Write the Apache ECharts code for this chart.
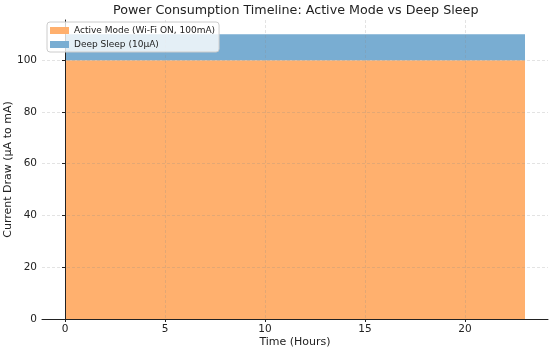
<!DOCTYPE html>
<html><head><meta charset="utf-8">
<script src="https://cdn.jsdelivr.net/npm/echarts@6/dist/echarts.min.js"></script>
<style>html,body{margin:0;padding:0;background:#fff}#c{width:550px;height:350px}</style>
</head><body><div id="c"></div>
<script>
const hours = [0,1,2,3,4,5,6,7,8,9,10,11,12,13,14,15,16,17,18,19,20,21,22,23];
const activeMode = [100,100,100,100,100,100,100,100,100,100,100,100,100,100,100,100,100,100,100,100,100,100,100,100];
const deepSleep = [10,10,10,10,10,10,10,10,10,10,10,10,10,10,10,10,10,10,10,10,10,10,10,10];
const xTicks = [0,5,10,15,20];
const yTicks = [0,20,40,60,80,100];
const font = 'DejaVu Sans';
const gridLine = {show:true, lineStyle:{color:'rgba(140,140,140,0.3)', type:[3,2], width:0.8}};
const chart = echarts.init(document.getElementById('c'), null, {renderer:'canvas'});
chart.setOption({
  animation:false,
  title:{text:'Power Consumption Timeline: Active Mode vs Deep Sleep', left:108, top:-1,
    textStyle:{fontFamily:font, fontSize:12.7, fontWeight:'normal', color:'#222'}},
  grid:{left:42, right:2, top:20, bottom:31, outerBoundsMode:'none', containLabel:false},
  legend:{orient:'vertical', left:47, top:22, padding:[4,4,3,3], itemGap:5, itemWidth:19, itemHeight:7,
    icon:'rect', backgroundColor:'rgba(255,255,255,0.8)', borderColor:'#ccc', borderWidth:1, borderRadius:3,
    textStyle:{fontFamily:font, fontSize:9, color:'#222'},
    data:['Active Mode (Wi-Fi ON, 100mA)','Deep Sleep (10µA)']},
  xAxis:{type:'value', min:-1.15, max:24.15,
    name:'Time (Hours)', nameLocation:'middle', nameGap:18, nameMoveOverlap:false,
    nameTextStyle:{fontFamily:font, fontSize:11, color:'#222'},
    axisLine:{show:true, onZero:false, lineStyle:{color:'#222', width:1}},
    axisTick:{show:true, length:3, customValues:xTicks, lineStyle:{color:'#222'}},
    axisLabel:{customValues:xTicks, fontFamily:font, fontSize:10.5, color:'#222', margin:5},
    splitLine:gridLine},
  yAxis:{type:'value', min:0, max:115.5,
    name:'Current Draw (µA to mA)', nameLocation:'middle', nameGap:28, nameMoveOverlap:false,
    nameTextStyle:{fontFamily:font, fontSize:11, color:'#222'},
    axisLine:{show:true, lineStyle:{color:'#222', width:1}},
    axisTick:{show:true, length:3, customValues:yTicks, lineStyle:{color:'#222'}},
    axisLabel:{customValues:yTicks, fontFamily:font, fontSize:10.5, color:'#222', margin:5},
    splitLine:gridLine},
  series:[
    {name:'Active Mode (Wi-Fi ON, 100mA)', type:'line', stack:'p', showSymbol:false, symbol:'none', z:-1,
     color:'#ffb06e', lineStyle:{width:0}, areaStyle:{color:'#ffb06e', opacity:1},
     encode:{x:1, y:0},
     data:hours.map((h,i)=>[activeMode[i],h])},
    {name:'Deep Sleep (10µA)', type:'line', stack:'p', showSymbol:false, symbol:'none', z:-1,
     color:'#79add2', lineStyle:{width:0}, areaStyle:{color:'#79add2', opacity:1},
     encode:{x:1, y:0},
     data:hours.map((h,i)=>[deepSleep[i],h])}
  ]
});
</script></body></html>
